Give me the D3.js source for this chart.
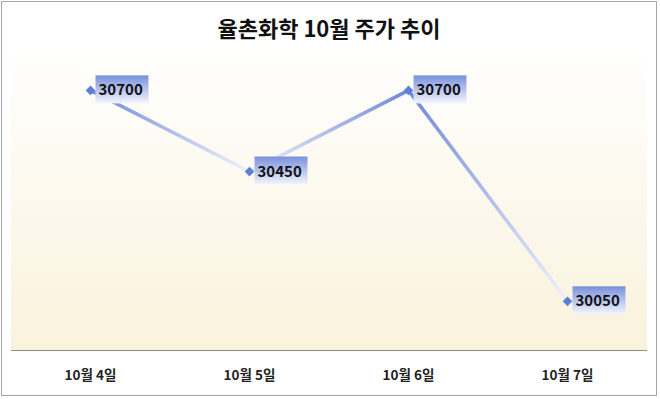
<!DOCTYPE html>
<html>
<head>
<meta charset="utf-8">
<script src="https://cdn.jsdelivr.net/npm/d3@7"></script>
<style>
  body { margin: 0; background: #fff; }
  text { font-family: "Noto Sans CJK KR", "Noto Sans", sans-serif; }
</style>
</head>
<body>
<div id="chart"></div>
<script>
var title = "율촌화학 10월 주가 추이";
var days = ["10월 4일", "10월 5일", "10월 6일", "10월 7일"];
var prices = [30700, 30450, 30700, 30050];
var yRange = [29900, 30800];

var width = 660, height = 399;
var plot = { left: 11, right: 647, top: 40, bottom: 350 };

var svg = d3.select("#chart")
    .append("svg")
    .attr("width", width)
    .attr("height", height);

var defs = svg.append("defs");

var bg = defs.append("linearGradient")
    .attr("id", "bg")
    .attr("x1", 0).attr("y1", 0).attr("x2", 0).attr("y2", 1);
bg.append("stop").attr("offset", "0%").attr("stop-color", "#ffffff");
bg.append("stop").attr("offset", "100%").attr("stop-color", "#faf2dc");

var boxGrad = defs.append("linearGradient")
    .attr("id", "box")
    .attr("x1", 0).attr("y1", 0).attr("x2", 0).attr("y2", 1);
boxGrad.append("stop").attr("offset", "0%").attr("stop-color", "#7990dc");
boxGrad.append("stop").attr("offset", "100%").attr("stop-color", "#f4f6fd");

// outer border
svg.append("rect")
    .attr("x", 1.5).attr("y", 1.5)
    .attr("width", 655).attr("height", 394)
    .attr("fill", "#fff")
    .attr("stroke", "#a6a6a6");

svg.append("rect")
    .attr("x", plot.left).attr("y", plot.top)
    .attr("width", plot.right - plot.left)
    .attr("height", plot.bottom - plot.top)
    .attr("fill", "url(#bg)");

var x = d3.scaleBand()
    .domain(days)
    .range([plot.left, plot.right]);

var y = d3.scaleLinear()
    .domain(yRange)
    .range([plot.bottom, plot.bottom - (yRange[1] - yRange[0]) * 0.3245]);

function cx(i) { return x(days[i]) + x.bandwidth() / 2; }

svg.append("text")
    .text(title)
    .attr("x", 329)
    .attr("y", 37)
    .attr("text-anchor", "middle")
    .attr("font-size", 22)
    .attr("font-weight", "bold")
    .attr("fill", "#111");

// baseline
svg.append("line")
    .attr("x1", plot.left).attr("x2", plot.right)
    .attr("y1", plot.bottom + 0.5).attr("y2", plot.bottom + 0.5)
    .attr("stroke", "#8c8c8c")
    .attr("stroke-width", 1);

// x axis labels
var xAxis = d3.axisBottom(x).tickSize(0).tickPadding(20);
var gx = svg.append("g")
    .attr("transform", "translate(0," + plot.bottom + ")")
    .call(xAxis);
gx.select(".domain").remove();
gx.selectAll("text")
    .attr("font-size", 13.5)
    .attr("font-weight", "bold")
    .attr("fill", "#222")
    .style("font-family", "'Noto Sans CJK KR', sans-serif");

// line segments, each fading toward its lower end
for (var i = 0; i < prices.length - 1; i++) {
    var hi = prices[i] >= prices[i + 1] ? i : i + 1;
    var lo = hi === i ? i + 1 : i;
    var g = defs.append("linearGradient")
        .attr("id", "seg" + i)
        .attr("gradientUnits", "userSpaceOnUse")
        .attr("x1", cx(hi)).attr("y1", y(prices[hi]))
        .attr("x2", cx(lo)).attr("y2", y(prices[lo]));
    g.append("stop").attr("offset", "0%").attr("stop-color", "#6f88d9");
    g.append("stop").attr("offset", "100%").attr("stop-color", "#f0f2fb");
    svg.append("line")
        .attr("x1", cx(i)).attr("y1", y(prices[i]))
        .attr("x2", cx(i + 1)).attr("y2", y(prices[i + 1]))
        .attr("stroke", "url(#seg" + i + ")")
        .attr("stroke-width", 3.5)
        .attr("stroke-linecap", "round");
}

// markers
svg.selectAll(".pt")
    .data(prices)
    .enter()
    .append("path")
    .attr("class", "pt")
    .attr("d", d3.symbol().type(d3.symbolDiamond2).size(60))
    .attr("transform", function (d, i) { return "translate(" + cx(i) + "," + y(d) + ")"; })
    .attr("fill", "#5d7fd6");

// labels
var lab = svg.selectAll(".lab")
    .data(prices)
    .enter()
    .append("g")
    .attr("class", "lab")
    .attr("transform", function (d, i) { return "translate(" + (cx(i) + 5) + "," + (y(d) - 15) + ")"; });

lab.append("rect")
    .attr("width", 53)
    .attr("height", 28)
    .attr("fill", "url(#box)");

lab.append("text")
    .text(function (d) { return d; })
    .attr("x", 3)
    .attr("y", 20)
    .attr("font-size", 15)
    .attr("font-weight", "bold")
    .attr("fill", "#111");
</script>
</body>
</html>
